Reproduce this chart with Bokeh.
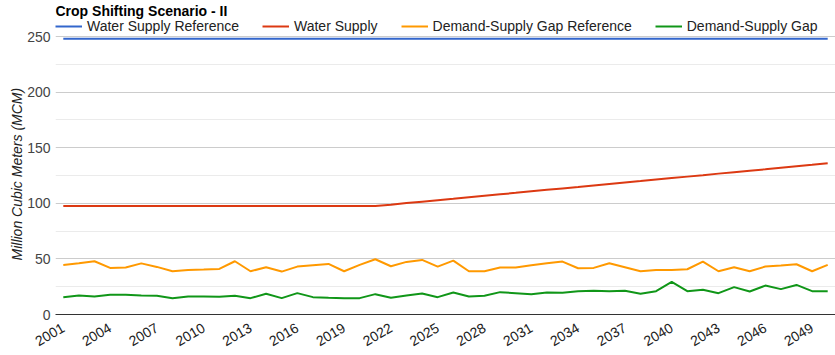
from bokeh.plotting import figure
from bokeh.models import FixedTicker, Legend, LegendItem, ColumnDataSource, Label, Title
from bokeh.embed import file_html
from bokeh.resources import INLINE
import math

years = list(range(2001, 2051))

water_supply_ref = [248.0] * 50

water_supply = [97.5, 97.5, 97.5, 97.5, 97.5, 97.5, 97.5, 97.5, 97.5, 97.5,
                97.5, 97.5, 97.5, 97.5, 97.5, 97.5, 97.5, 97.5, 97.5, 97.5,
                97.5, 98.8, 100.2, 101.5, 102.8, 104.1, 105.5, 106.8, 108.1, 109.4,
                110.8, 112.1, 113.4, 114.7, 116.1, 117.4, 118.7, 120.0, 121.4, 122.7,
                124.0, 125.3, 126.7, 128.0, 129.3, 130.6, 132.0, 133.3, 134.6, 136.0]

gap_ref = [44.6, 46.0, 47.9, 41.9, 42.2, 46.0, 42.8, 38.9, 40.1, 40.4,
           41.0, 47.9, 38.9, 42.5, 38.6, 43.1, 44.3, 45.5, 38.9, 44.6,
           49.7, 43.4, 47.3, 49.1, 43.1, 48.5, 38.9, 38.9, 42.2, 42.2,
           44.3, 46.1, 47.6, 41.6, 41.9, 46.1, 42.5, 38.9, 40.1, 40.1,
           40.7, 47.6, 38.9, 42.5, 38.9, 43.1, 44.0, 45.2, 38.9, 44.6]

gap = [15.6, 17.1, 16.2, 17.7, 17.7, 17.1, 16.8, 14.7, 16.2, 16.2,
       15.9, 16.8, 14.7, 18.6, 14.7, 19.2, 15.6, 15.0, 14.7, 14.7,
       18.3, 15.0, 17.1, 18.9, 15.6, 19.8, 16.2, 16.8, 20.1, 19.2,
       18.3, 19.8, 19.5, 21.0, 21.3, 21.0, 21.3, 18.6, 21.0, 29.3,
       21.0, 22.2, 19.2, 24.6, 20.7, 26.0, 22.8, 26.6, 21.0, 21.0]

x_ticks = list(range(2001, 2050, 3))
y_ticks = [0, 50, 100, 150, 200, 250]
y_minor = [25, 75, 125, 175, 225]

title_text = "Crop Shifting Scenario - II"
y_label = "Million Cubic Meters (MCM)"
series_names = ["Water Supply Reference", "Water Supply",
                "Demand-Supply Gap Reference", "Demand-Supply Gap"]
series_colors = ["#3366cc", "#dc3912", "#ff9900", "#109618"]
series_cols = ["ref", "ws", "gref", "gap"]

src = ColumnDataSource(dict(year=years, ref=water_supply_ref, ws=water_supply,
                            gref=gap_ref, gap=gap))

# frame spans the full height above the x axis (title + legend live in it)
p = figure(width=835, height=355, output_backend="svg", toolbar_location=None,
           x_range=(2000.5, 2050.5), y_range=(0, 282.4),
           min_border_left=55, min_border_right=0, min_border_top=0,
           min_border_bottom=41)
p.outline_line_color = None

renderers = []
for col, color in zip(series_cols, series_colors):
    renderers.append(p.line("year", col, source=src, line_color=color, line_width=2))

p.add_layout(Label(x=0, y=303.5, x_units="screen", y_units="screen", text=title_text,
                   text_font="Liberation Sans", text_font_size="14px",
                   text_font_style="bold", text_color="#000000",
                   text_baseline="middle", text_align="left"))

legend = Legend(items=[LegendItem(label=n, renderers=[r]) for n, r in zip(series_names, renderers)],
                orientation="horizontal", location=(0, 280))
legend.glyph_width = 27
legend.glyph_height = 16
legend.label_standoff = 5
legend.spacing = 23
legend.padding = 0
legend.margin = 0
legend.border_line_color = None
legend.background_fill_alpha = 0
legend.label_text_font = "Liberation Sans"
legend.label_text_font_size = "14px"
legend.label_text_color = "#222222"
legend.label_height = 16
p.add_layout(legend, "center")

xa = p.xaxis[0]
xa.ticker = FixedTicker(ticks=x_ticks)
xa.major_label_orientation = math.pi / 6
xa.major_label_text_font = "Liberation Sans"
xa.major_label_text_font_size = "14px"
xa.major_label_text_color = "#222222"
xa.major_tick_line_color = None
xa.minor_tick_line_color = None
xa.axis_line_color = "#333333"
xa.axis_line_width = 1
xa.major_label_standoff = 6

ya = p.yaxis[0]
ya.ticker = FixedTicker(ticks=y_ticks, minor_ticks=y_minor)
ya.major_label_text_font = "Liberation Sans"
ya.major_label_text_font_size = "14px"
ya.major_label_text_color = "#444444"
ya.major_tick_line_color = None
ya.minor_tick_line_color = None
ya.major_tick_out = 0
ya.minor_tick_out = 0
ya.axis_line_color = None
ya.major_label_standoff = 5

ytitle = Title(text=y_label, align="left", offset=54, standoff=0,
               text_font="Liberation Sans", text_font_size="14px",
               text_font_style="italic", text_color="#222222")
p.add_layout(ytitle, "left")

p.xgrid.grid_line_color = None
p.ygrid.grid_line_color = "#cccccc"
p.ygrid.minor_grid_line_color = "#ebebeb"

open("out.html", "w").write(file_html(p, INLINE))
